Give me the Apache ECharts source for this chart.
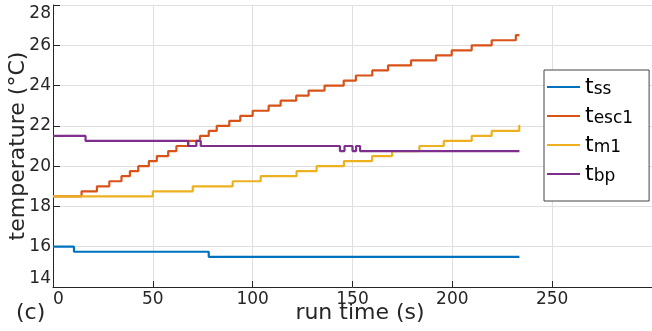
<!DOCTYPE html>
<html>
<head>
<meta charset="utf-8">
<script src="https://cdn.jsdelivr.net/npm/echarts@6/dist/echarts.min.js"></script>
<style>
  html, body { margin: 0; padding: 0; background: #fff; }
  #chart { width: 652px; height: 331px; }
</style>
</head>
<body>
<div id="chart"></div>
<script>
// step change points (s, °C)
var ssTime = [0, 10.5, 78, 233.6];
var ssTemp = [16, 15.75, 15.5, 15.5];

var escTime = [0, 14.3, 22, 28.2, 34.3, 38.5, 42.7, 48, 52, 57.7, 61.8, 67.7, 73.6, 78, 82, 88.3, 93.8, 100, 108, 114,
               121.8, 128, 136, 145.6, 151.7, 159.9, 167.8, 179.3, 191.8, 199.7, 209.7, 219.7, 231.8, 233.6];
var escTemp = [18.5, 18.75, 19, 19.25, 19.5, 19.75, 20, 20.25, 20.5, 20.75, 21, 21.25, 21.5, 21.75, 22, 22.25, 22.5, 22.75, 23, 23.25,
               23.5, 23.75, 24, 24.25, 24.5, 24.75, 25, 25.25, 25.5, 25.75, 26, 26.25, 26.5, 26.5];

var m1Time = [0, 50, 70, 90, 104, 122, 132, 145.7, 159.8, 169.8, 183.5, 195.7, 209.7, 219.7, 233.5, 234];
var m1Temp = [18.5, 18.75, 19, 19.25, 19.5, 19.75, 20, 20.25, 20.5, 20.75, 21, 21.25, 21.5, 21.75, 22, 22];

var bpTime = [0, 16.3, 67.7, 71.8, 74, 143.7, 146, 150, 151.8, 153.8, 233.6];
var bpTemp = [21.5, 21.25, 21, 21.25, 21, 20.75, 21, 20.75, 21, 20.75, 20.75];

var seriesNames = ['ss', 'esc1', 'm1', 'bp'];
var seriesColors = ['#0072BD', '#D95319', '#EDB120', '#7E2F8E'];

function pairs(xs, ys) {
    var out = [];
    for (var i = 0; i < xs.length; i++) out.push([xs[i], ys[i]]);
    return out;
}

var allData = [pairs(ssTime, ssTemp), pairs(escTime, escTemp), pairs(m1Time, m1Temp), pairs(bpTime, bpTemp)];

var chart = echarts.init(document.getElementById('chart'));

var axisCol = '#262626';
var gridCol = '#dfdfdf';
var font = 'DejaVu Sans';

var option = {
    animation: false,
    backgroundColor: '#fff',
    textStyle: { fontFamily: font },
    grid: { left: 53, right: 0, top: 5, bottom: 44, containLabel: false, outerBoundsMode: 'none' },
    xAxis: {
        type: 'value',
        min: 0, max: 300, interval: 50,
        name: 'run time (s)',
        nameLocation: 'middle',
        nameGap: 15,
        nameMoveOverlap: false,
        nameTextStyle: { fontSize: 22, color: axisCol, fontFamily: font, padding: [0, 0, 0, 15], verticalAlign: 'top' },
        axisLine: { show: true, lineStyle: { color: axisCol, width: 1 } },
        axisTick: { show: true, inside: true, length: 6, lineStyle: { color: axisCol } },
        axisLabel: { fontSize: 17, color: axisCol, fontFamily: font, margin: 4, showMaxLabel: false, alignMinLabel: 'left' },
        splitLine: { show: true, lineStyle: { color: gridCol, width: 1 } }
    },
    yAxis: {
        type: 'value',
        min: 14, max: 28, interval: 2,
        name: 'temperature (°C)',
        nameLocation: 'middle',
        nameGap: 24,
        nameMoveOverlap: false,
        nameTextStyle: { fontSize: 22, color: axisCol, fontFamily: font },
        axisLine: { show: true, lineStyle: { color: axisCol, width: 1 } },
        axisTick: { show: true, inside: true, length: 7, lineStyle: { color: axisCol } },
        axisLabel: { fontSize: 17, color: axisCol, fontFamily: font, margin: 2,
                     verticalAlignMinLabel: 'bottom', verticalAlignMaxLabel: 'top' },
        splitLine: { show: true, lineStyle: { color: gridCol, width: 1 } }
    },
    legend: {
        orient: 'vertical',
        left: 544, top: 70,
        padding: [1, 16, 16, 3],
        itemGap: 2,
        itemWidth: 33, itemHeight: 2,
        icon: 'rect',
        backgroundColor: '#fff',
        borderColor: '#444',
        borderWidth: 1,
        borderRadius: 0,
        data: seriesNames,
        formatter: function (n) { return '{t|t}{s|' + n + '}'; },
        textStyle: {
            color: '#000',
            fontFamily: font,
            rich: {
                t: { fontSize: 22, fontFamily: font, color: '#000', verticalAlign: 'top', lineHeight: 22 },
                s: { fontSize: 17, fontFamily: font, color: '#000', verticalAlign: 'bottom', lineHeight: 17, padding: [10, 0, 0, 0] }
            }
        }
    },
    graphic: [
        { type: 'text', left: 16, top: 302, style: { text: '(c)', font: '22px "DejaVu Sans"', fill: axisCol } }
    ],
    series: seriesNames.map(function (n, i) {
        return {
            name: n,
            type: 'line',
            step: 'end',
            showSymbol: false,
            symbol: 'none',
            color: seriesColors[i],
            lineStyle: { color: seriesColors[i], width: 2.2 },
            data: allData[i]
        };
    })
};

chart.setOption(option);
</script>
</body>
</html>
